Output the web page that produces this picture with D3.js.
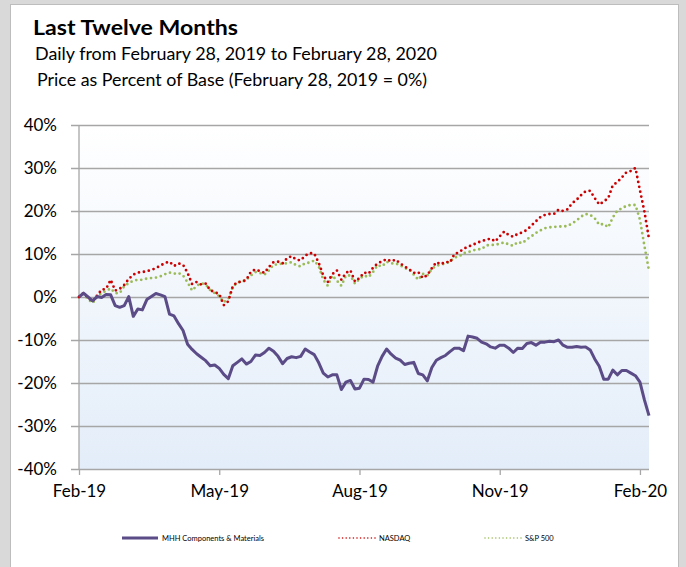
<!DOCTYPE html>
<html>
<head>
<meta charset="utf-8">
<script src="https://cdn.jsdelivr.net/npm/d3@7"></script>
<style>
  html, body { margin: 0; padding: 0; background: #d9d9d9; }
  svg { display: block; font-family: Lato, "Open Sans", sans-serif; }
</style>
</head>
<body>
<svg id="chart" width="686" height="567"></svg>
<script>
// x-axis categories (every second trading day, Feb 28 2019 -> Feb 28 2020)
var tickIndex = [0, 31, 62, 93, 124];
var tickLabels = ["Feb-19", "May-19", "Aug-19", "Nov-19", "Feb-20"];
var yTicks = [-40, -30, -20, -10, 0, 10, 20, 30, 40];

// percent change from base
var mhh = [
  0.0, 0.9, 0.0, -0.9, 0.1, -0.1, 0.6, 0.5, -2.0, -2.4,
  -2.0, 0.1, -4.5, -2.8, -3.0, -0.6, 0.1, 0.8, 0.5, 0.1,
  -4.0, -4.4, -6.2, -7.8, -11.0, -12.2, -13.2, -14.0, -14.8, -16.0,
  -15.8, -16.6, -18.0, -19.0, -16.0, -15.2, -14.4, -15.6, -15.0, -13.5,
  -13.6, -12.9, -11.9, -12.6, -13.8, -15.5, -14.3, -13.9, -14.1, -13.8,
  -12.1, -12.8, -13.4, -15.3, -17.7, -18.6, -18.1, -18.1, -21.5, -19.8,
  -19.4, -21.4, -21.2, -19.1, -19.2, -19.8, -16.1, -13.8, -12.1, -13.3,
  -14.2, -14.7, -15.7, -15.4, -15.2, -17.8, -18.1, -19.5, -16.4, -14.7,
  -14.1, -13.6, -12.7, -11.9, -11.9, -12.5, -9.1, -9.3, -9.6, -10.5,
  -10.9, -11.6, -11.9, -11.2, -11.2, -11.9, -12.9, -11.9, -12.0, -10.8,
  -10.6, -11.2, -10.5, -10.5, -10.3, -10.4, -10.0, -11.2, -11.7, -11.7,
  -11.5, -11.7, -11.6, -12.3, -14.4, -16.1, -19.1, -19.1, -17.0, -18.1,
  -17.1, -17.1, -17.7, -18.3, -19.8, -24.0, -27.6
];

var nasdaq = [
  0.0, 0.9, -0.2, -1.0, 0.3, 1.7, 1.9, 4.0, 1.5, 1.9,
  2.8, 4.2, 5.2, 5.7, 5.8, 6.0, 6.3, 6.7, 7.3, 7.9,
  8.2, 7.2, 7.8, 7.5, 5.6, 3.0, 3.5, 2.9, 3.1, 1.6,
  1.1, 0.7, -1.9, -1.0, 2.5, 3.5, 3.5, 4.0, 5.9, 6.4,
  6.0, 5.6, 7.0, 8.1, 8.2, 7.8, 9.0, 9.5, 8.7, 8.5,
  9.6, 10.2, 10.1, 7.9, 5.0, 3.5, 5.3, 6.2, 4.0, 5.6,
  6.2, 3.6, 4.4, 5.7, 5.4, 6.8, 7.8, 8.3, 8.8, 8.3,
  8.7, 7.8, 7.1, 6.4, 5.6, 5.8, 4.4, 5.1, 6.7, 8.1,
  7.6, 8.2, 8.0, 10.0, 10.4, 11.2, 11.7, 12.1, 12.6, 13.0,
  13.3, 13.6, 12.9, 14.1, 15.2, 14.4, 14.0, 14.7, 15.0, 15.6,
  16.6, 17.6, 18.6, 19.1, 19.3, 19.3, 20.3, 20.0, 20.4, 21.8,
  22.6, 23.7, 24.6, 24.7, 23.0, 21.5, 22.2, 23.0, 26.0, 26.7,
  27.8, 29.0, 29.3, 30.0, 24.8, 19.8, 13.5
];

var sp500 = [
  0.0, 0.7, -0.5, -1.4, -0.1, 1.0, 1.4, 2.0, 0.9, 0.9,
  2.5, 3.2, 3.8, 4.0, 4.0, 4.3, 4.4, 4.5, 4.8, 5.3,
  5.7, 5.4, 5.6, 5.0, 3.4, 1.5, 2.6, 3.2, 2.9, 1.6,
  0.9, 0.2, -1.2, -0.4, 2.3, 3.4, 3.5, 4.0, 5.0, 5.8,
  5.6, 5.2, 6.2, 7.5, 7.6, 7.8, 7.8, 8.1, 7.4, 7.1,
  7.9, 8.0, 8.5, 7.1, 4.0, 2.6, 5.0, 3.8, 2.6, 5.0,
  5.0, 3.1, 4.2, 5.0, 4.6, 5.8, 7.4, 7.1, 8.2, 7.8,
  7.8, 7.4, 6.7, 6.4, 5.2, 4.0, 5.4, 5.0, 6.5, 7.3,
  7.5, 7.8, 8.2, 9.2, 9.4, 10.2, 10.4, 10.8, 11.1, 11.1,
  12.0, 12.1, 12.1, 12.4, 12.7, 12.2, 11.9, 12.8, 12.5, 13.4,
  14.1, 14.9, 15.5, 16.0, 16.2, 16.3, 16.4, 16.4, 16.5, 17.1,
  17.8, 18.7, 19.3, 19.1, 18.3, 16.8, 17.0, 16.2, 18.5, 20.1,
  20.6, 21.2, 21.4, 21.4, 18.0, 11.8, 6.1
];

var seriesNames = ["MHH Components & Materials", "NASDAQ", "S&P 500"];
var seriesColors = ["#5b4b87", "#cc0000", "#9bbb59"];

var svg = d3.select("#chart");
var plot = { left: 79, right: 649, top: 125, bottom: 469 };

var x = d3.scaleLinear().domain([0, mhh.length - 1]).range([plot.left, plot.right]);
var y = d3.scaleLinear().domain([-40, 40]).range([plot.bottom, plot.top]);

drawFrame();
drawTitles();
drawAxes();
drawSeries();
drawLegend();

/*
  NAME: drawFrame
  DESCRIPTION: grey page, white chart panel and shaded plot area
*/
function drawFrame() {
  svg.append("rect")
    .attr("x", 0).attr("y", 0)
    .attr("width", 686).attr("height", 567)
    .attr("fill", "#d9d9d9");

  svg.append("rect")
    .attr("x", 10.5).attr("y", 4.5)
    .attr("width", 668).attr("height", 580)
    .attr("fill", "#ffffff")
    .attr("stroke", "#bdbdbd");

  var grad = svg.append("defs")
    .append("linearGradient")
    .attr("id", "plotFill")
    .attr("x1", 0).attr("y1", 0)
    .attr("x2", 0).attr("y2", 1);
  grad.append("stop").attr("offset", "0%").attr("stop-color", "#ffffff");
  grad.append("stop").attr("offset", "100%").attr("stop-color", "#e3edf9");

  svg.append("rect")
    .attr("x", plot.left).attr("y", plot.top)
    .attr("width", plot.right - plot.left)
    .attr("height", plot.bottom - plot.top)
    .attr("fill", "url(#plotFill)");
} // end function drawFrame

/*
  NAME: drawTitles
*/
function drawTitles() {
  svg.append("text")
    .attr("x", 33).attr("y", 35)
    .attr("font-size", 21).attr("font-weight", "bold")
    .attr("textLength", 205).attr("lengthAdjust", "spacingAndGlyphs")
    .text("Last Twelve Months");

  svg.append("text")
    .attr("x", 35).attr("y", 60)
    .attr("font-size", 16.5)
    .attr("textLength", 402).attr("lengthAdjust", "spacingAndGlyphs")
    .text("Daily from February 28, 2019 to February 28, 2020");

  svg.append("text")
    .attr("x", 37).attr("y", 86)
    .attr("font-size", 16.5)
    .attr("textLength", 390).attr("lengthAdjust", "spacingAndGlyphs")
    .text("Price as Percent of Base (February 28, 2019 = 0%)");
} // end function drawTitles

/*
  NAME: drawAxes
  DESCRIPTION: horizontal gridlines, y labels, category ticks and labels
*/
function drawAxes() {
  var yAxis = d3.axisLeft(y)
    .tickValues(yTicks)
    .tickSize(-(plot.right - plot.left + 8))
    .tickPadding(14)
    .tickFormat(function (d) { return d + "%"; });

  var gy = svg.append("g")
    .attr("transform", "translate(" + (plot.left - 8) + ",0)")
    .call(yAxis);
  gy.select(".domain").remove();
  gy.selectAll(".tick line")
    .attr("stroke", "#a6a6a6").attr("stroke-width", 1.3);
  gy.selectAll(".tick text")
    .attr("font-family", "Lato, sans-serif")
    .attr("font-size", 17).attr("fill", "#000");

  // vertical axis line
  svg.append("line")
    .attr("x1", plot.left).attr("x2", plot.left)
    .attr("y1", plot.top).attr("y2", plot.bottom)
    .attr("stroke", "#a6a6a6").attr("stroke-width", 1.3);

  var xAxis = d3.axisBottom(x)
    .tickValues(tickIndex)
    .tickSize(6)
    .tickPadding(10)
    .tickFormat(function (d, i) { return tickLabels[i]; });

  var gx = svg.append("g")
    .attr("transform", "translate(0," + plot.bottom + ")")
    .call(xAxis);
  gx.select(".domain").remove();
  gx.selectAll(".tick line").attr("stroke", "#a6a6a6").attr("stroke-width", 1.3);
  gx.selectAll(".tick text")
    .attr("font-family", "Lato, sans-serif")
    .attr("font-size", 17).attr("fill", "#000");
} // end function drawAxes

/*
  NAME: drawSeries
*/
function drawSeries() {
  var line = d3.line()
    .x(function (d, i) { return x(i); })
    .y(function (d) { return y(d); });

  // S&P 500 and NASDAQ as dotted lines, MHH solid on top
  svg.append("path")
    .datum(sp500)
    .attr("d", line)
    .attr("fill", "none")
    .attr("stroke", seriesColors[2])
    .attr("stroke-width", 2.8)
    .attr("stroke-linecap", "round")
    .attr("stroke-dasharray", "0,5");

  svg.append("path")
    .datum(nasdaq)
    .attr("d", line)
    .attr("fill", "none")
    .attr("stroke", seriesColors[1])
    .attr("stroke-width", 2.8)
    .attr("stroke-linecap", "round")
    .attr("stroke-dasharray", "0,5");

  svg.append("path")
    .datum(mhh)
    .attr("d", line)
    .attr("fill", "none")
    .attr("stroke", seriesColors[0])
    .attr("stroke-width", 3)
    .attr("stroke-linejoin", "round");
} // end function drawSeries

/*
  NAME: drawLegend
*/
function drawLegend() {
  var items = [
    { x: 122, dash: null, w: 3 },
    { x: 339, dash: "0,3.6", w: 1.6 },
    { x: 485, dash: "0,3.6", w: 1.6 }
  ];
  var ly = 538;

  items.forEach(function (d, i) {
    svg.append("line")
      .attr("x1", d.x).attr("x2", d.x + 36)
      .attr("y1", ly).attr("y2", ly)
      .attr("stroke", seriesColors[i])
      .attr("stroke-width", d.w)
      .attr("stroke-linecap", d.dash ? "round" : "butt")
      .attr("stroke-dasharray", d.dash);

    svg.append("text")
      .attr("x", d.x + 40).attr("y", ly + 2.5)
      .attr("font-size", 7.5)
      .text(seriesNames[i]);
  });
} // end function drawLegend
</script>
</body>
</html>
